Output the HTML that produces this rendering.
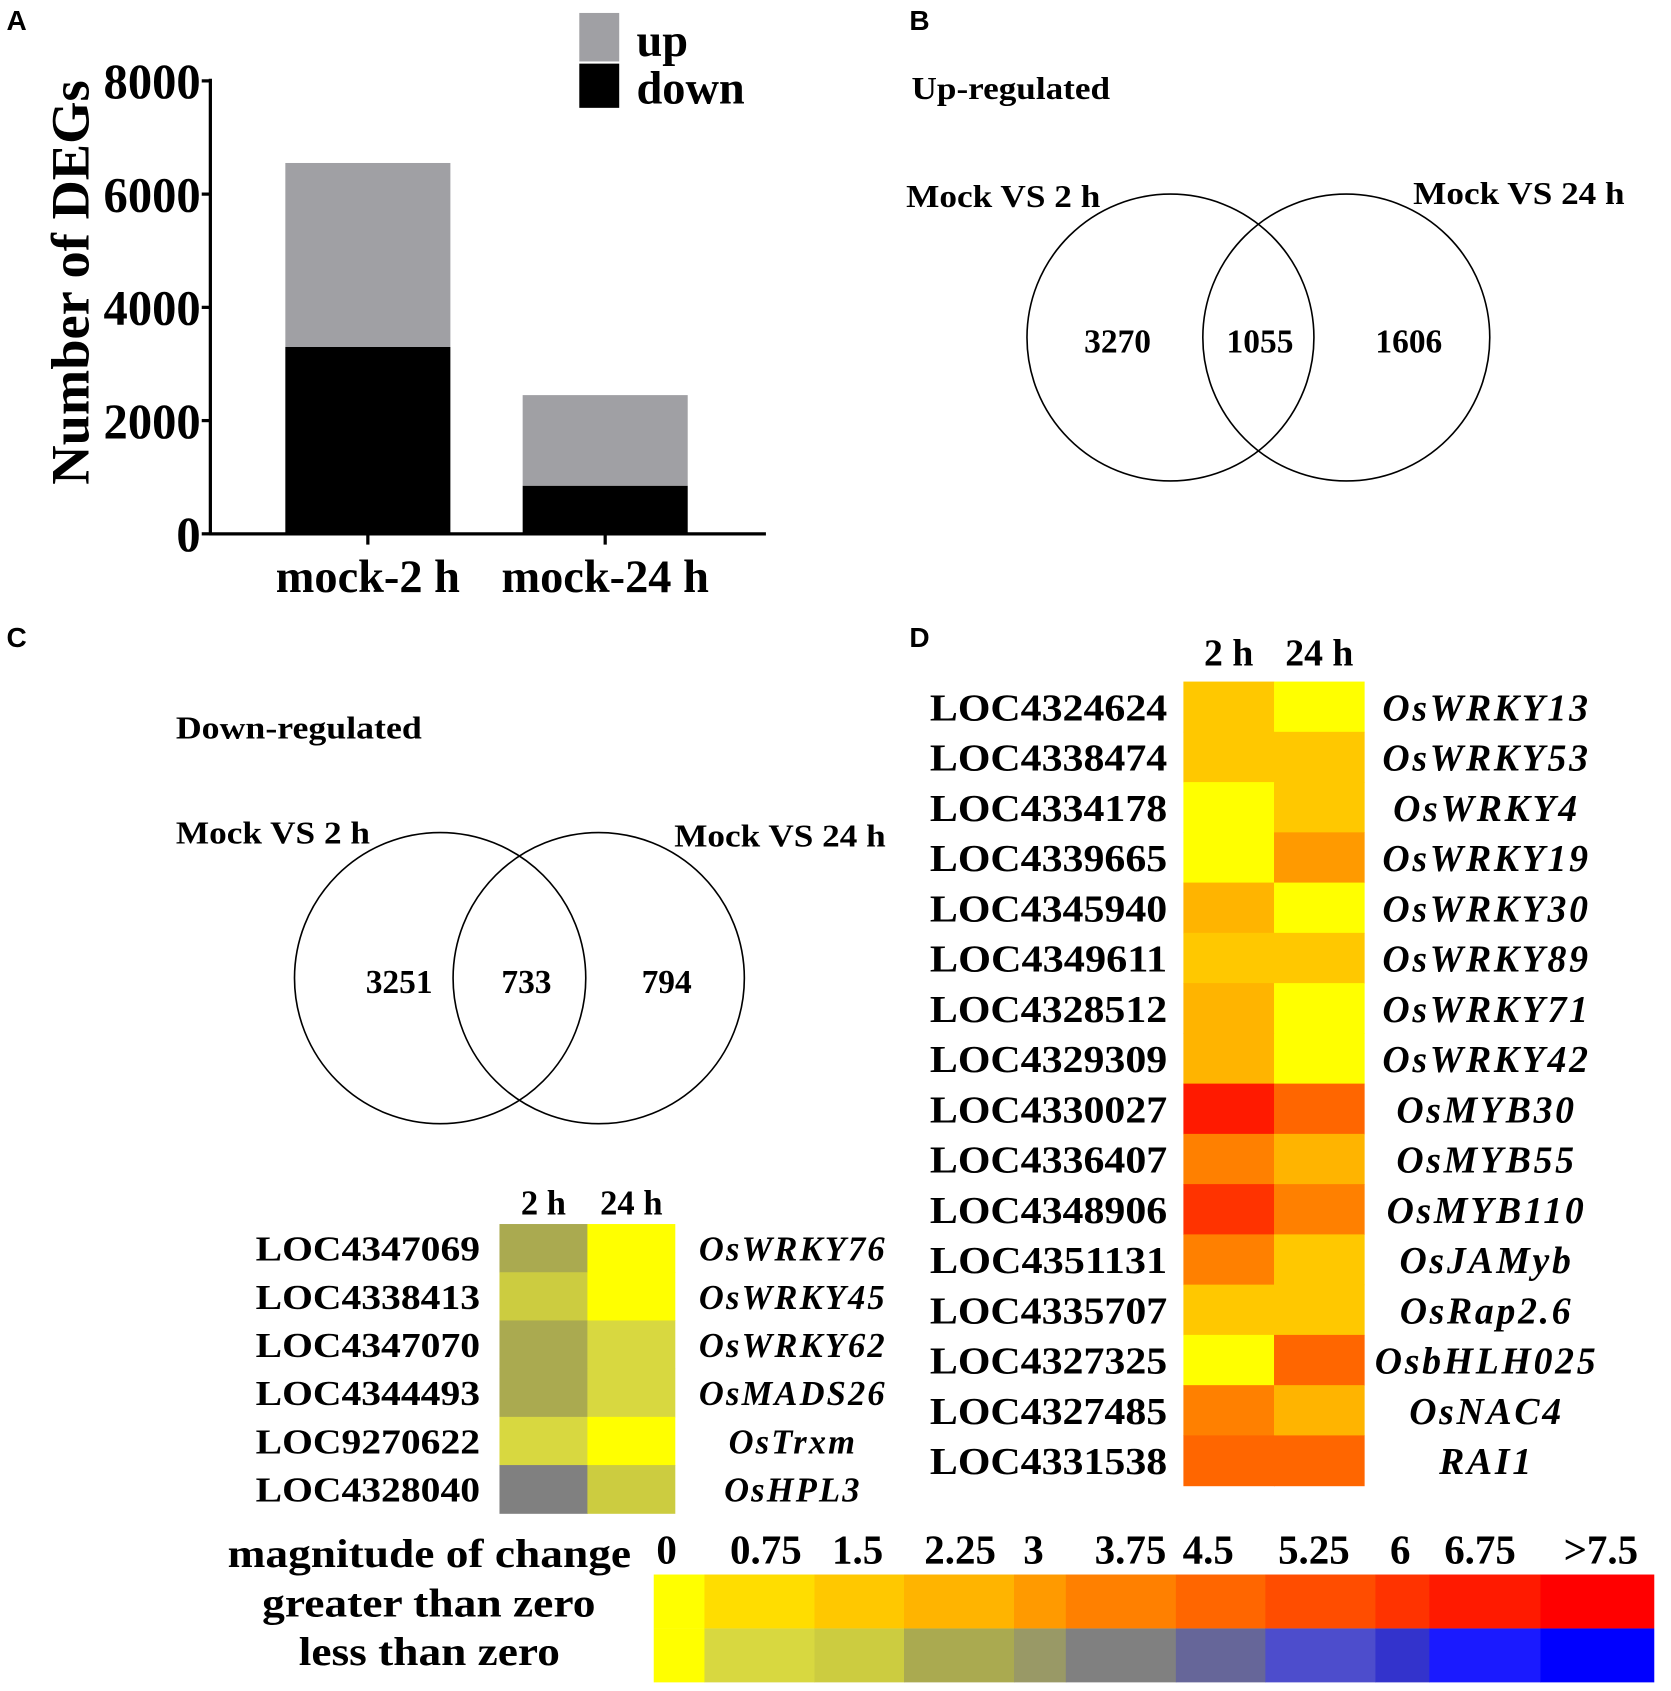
<!DOCTYPE html>
<html><head><meta charset="utf-8"><style>
html,body{margin:0;padding:0;background:#fff;}
svg{display:block;font-family:"Liberation Serif",serif;font-weight:bold;}
</style></head><body>
<svg id="fig" width="1671" height="1691" viewBox="0 0 1549 1568" preserveAspectRatio="none" xmlns="http://www.w3.org/2000/svg">
<g font-family="Liberation Sans, sans-serif" font-size="26" font-weight="bold">
<text x="6" y="28">A</text>
<text x="843" y="28">B</text>
<text x="6" y="600">C</text>
<text x="843" y="600">D</text>
</g>
<g id="panelA"></g>
<g id="venns"></g>
<g id="heatC"></g>
<g id="heatD"></g>
<g id="legend"></g>
</svg>
<script>
// ---------- Panel A data ----------
const categories = ["mock-2 h", "mock-24 h"];
const downValues = [3300, 850];
const upValues = [3250, 1600];
const yTicks = [0, 2000, 4000, 6000, 8000];
// ---------- Venn data ----------
const vennUp = [3270, 1055, 1606];
const vennDown = [3251, 733, 794];
// ---------- Heatmap C data ----------
const cGenes = ["LOC4347069","LOC4338413","LOC4347070","LOC4344493","LOC9270622","LOC4328040"];
const cNames = ["OsWRKY76","OsWRKY45","OsWRKY62","OsMADS26","OsTrxm","OsHPL3"];
const c2h = [2.4, 1.6, 2.5, 2.3, 0.9, 4.0];
const c24h = [0.3, 0.3, 1.0, 1.0, 0.2, 1.6];
// ---------- Heatmap D data ----------
const dGenes = ["LOC4324624","LOC4338474","LOC4334178","LOC4339665","LOC4345940","LOC4349611","LOC4328512","LOC4329309","LOC4330027","LOC4336407","LOC4348906","LOC4351131","LOC4335707","LOC4327325","LOC4327485","LOC4331538"];
const dNames = ["OsWRKY13","OsWRKY53","OsWRKY4","OsWRKY19","OsWRKY30","OsWRKY89","OsWRKY71","OsWRKY42","OsMYB30","OsMYB55","OsMYB110","OsJAMyb","OsRap2.6","OsbHLH025","OsNAC4","RAI1"];
const d2h = [1.6, 2.0, 0.3, 0.3, 2.4, 1.7, 2.5, 2.5, 6.9, 3.8, 6.2, 4.0, 1.9, 0.3, 4.0, 4.6];
const d24h = [0.3, 1.6, 1.6, 3.5, 0.3, 1.7, 0.3, 0.3, 4.6, 2.4, 3.8, 1.7, 1.6, 4.8, 2.3, 4.6];
// ---------- Legend ----------
const legendLabels = ["0","0.75","1.5","2.25","3","3.75","4.5","5.25","6","6.75",">7.5"];
const posColors = ["#ffff00","#ffdd00","#ffc800","#ffb400","#ff9a00","#ff8000","#ff6600","#ff4d00","#ff3300","#ff1a00","#ff0000"];
const negColors = ["#ffff00","#d8d840","#cccc40","#aaaa50","#999966","#808080","#666699","#4d4dcc","#3333cc","#1a1aff","#0000ff"];

const NS="http://www.w3.org/2000/svg";
function mk(parent,tag,attrs,text){const e=document.createElementNS(NS,tag);for(const k in attrs)e.setAttribute(k,attrs[k]);if(text!==undefined)e.textContent=text;parent.appendChild(e);return e;}
function bin(v){return Math.max(0,Math.min(10,Math.floor(v/0.75)));}

// Panel A
const A=document.getElementById('panelA');
const y0=495,y1=75,ax0=195,ax1=710;
const yScale=v=>y0-(v/8000)*(y0-y1);
const barCenters=[341,561],barW=153;
categories.forEach((c,i)=>{
  const x=barCenters[i]-barW/2;
  let r=mk(A,'rect',{x:x,y:yScale(downValues[i]),width:barW,height:y0-yScale(downValues[i]),fill:'#000'});
  
  const tot=downValues[i]+upValues[i];
  r=mk(A,'rect',{x:x,y:yScale(tot),width:barW,height:yScale(downValues[i])-yScale(tot),fill:'#a0a0a4'});
  
  mk(A,'line',{x1:barCenters[i],x2:barCenters[i],y1:y0,y2:y0+10,stroke:'#000','stroke-width':3});
  const t=mk(A,'text',{x:barCenters[i],y:549,'text-anchor':'middle','font-size':43},c);
  
});
mk(A,'line',{x1:ax0,x2:ax0,y1:y1-2,y2:y0+1,stroke:'#000','stroke-width':3});
mk(A,'line',{x1:ax0-1,x2:ax1,y1:y0,y2:y0,stroke:'#000','stroke-width':3});
yTicks.forEach(v=>{
  mk(A,'line',{x1:ax0-8,x2:ax0,y1:yScale(v),y2:yScale(v),stroke:'#000','stroke-width':3});
  const s=String(v);
  const t=mk(A,'text',{x:186,y:yScale(v)+16,'text-anchor':'end','font-size':46,textLength:s.length*22.5,lengthAdjust:'spacingAndGlyphs'},s);
  
});
let yt=mk(A,'text',{x:0,y:0,'text-anchor':'middle','font-size':50,textLength:375,lengthAdjust:'spacingAndGlyphs',transform:'translate(82,262) rotate(-90)'},'Number of DEGs');

mk(A,'rect',{x:537,y:12,width:37,height:45,fill:'#a0a0a4'});
mk(A,'rect',{x:537,y:59,width:37,height:41,fill:'#000'});
let lt=mk(A,'text',{x:590,y:52,'font-size':43},'up');
lt=mk(A,'text',{x:590,y:96,'font-size':43},'down');

// Venns
const V=document.getElementById('venns');
function venn(title,tx,ty,tw,l1,l1x,l1y,l2,l2x,l2y,c1,c2,cy,r,vals,nx,ny){
  let t=mk(V,'text',{x:tx,y:ty,'font-size':29,textLength:tw,lengthAdjust:'spacingAndGlyphs'},title);
  t=mk(V,'text',{x:l1x,y:l1y,'font-size':29,textLength:180,lengthAdjust:'spacingAndGlyphs'},l1);
  t=mk(V,'text',{x:l2x,y:l2y,'font-size':29,textLength:196,lengthAdjust:'spacingAndGlyphs'},l2);
  let c=mk(V,'circle',{cx:c1,cy:cy,r:r,fill:'none',stroke:'#000','stroke-width':1.5});
  c=mk(V,'circle',{cx:c2,cy:cy,r:r,fill:'none',stroke:'#000','stroke-width':1.5});
  vals.forEach((v,i)=>{t=mk(V,'text',{x:nx[i],y:ny,'text-anchor':'middle','font-size':31},String(v));});
}
venn('Up-regulated',845,92,184,'Mock VS 2 h',840,192,'Mock VS 24 h',1310,189,1085,1248,313,133,vennUp,[1036,1168,1306],327);
venn('Down-regulated',163,685,228,'Mock VS 2 h',163,782,'Mock VS 24 h',625,785,408,555,907,135,vennDown,[370,488,618],921);

// Heatmaps
function heat(g,genes,names,v1,v2,colors,x0,cw,yTop,rh,fs,labelX,idW,nameX,ls,hy){
  let t=mk(g,'text',{x:x0+cw/2,y:hy,'text-anchor':'middle','font-size':fs},'2 h');
  t=mk(g,'text',{x:x0+cw*1.5,y:hy,'text-anchor':'middle','font-size':fs},'24 h');
  genes.forEach((gname,i)=>{
    const y=yTop+i*rh;
    let r=mk(g,'rect',{x:x0,y:y,width:cw+0.5,height:rh+0.5,fill:colors[bin(v1[i])]});
    r=mk(g,'rect',{x:x0+cw,y:y,width:cw,height:rh+0.5,fill:colors[bin(v2[i])]});
    t=mk(g,'text',{x:labelX-idW,y:y+rh/2+fs*0.36,'font-size':fs,textLength:idW,lengthAdjust:'spacingAndGlyphs'},gname);
    t=mk(g,'text',{x:nameX,y:y+rh/2+fs*0.36,'text-anchor':'middle','font-size':fs,'font-style':'italic','letter-spacing':ls},names[i]);
  });
}
heat(document.getElementById('heatC'),cGenes,cNames,c2h,c24h,negColors,463,81.5,1135,44.7,32,445,208,735,2,1126);
heat(document.getElementById('heatD'),dGenes,dNames,d2h,d24h,posColors,1097,84,632,46.6,35,1082,220,1378,2.5,617);

// Legend
const L=document.getElementById('legend');
const edges=[606,653,755,838,940,988,1090,1173,1275,1325,1428,1533];
const labelCx=[618,710,795,890,958,1048,1120,1218,1298,1372,1484];
legendLabels.forEach((lab,i)=>{
  let r=mk(L,'rect',{x:edges[i],y:1460,width:edges[i+1]-edges[i]+0.5,height:50,fill:posColors[i]});
  r=mk(L,'rect',{x:edges[i],y:1510,width:edges[i+1]-edges[i]+0.5,height:50,fill:negColors[i]});
  const t=mk(L,'text',{x:labelCx[i],y:1450,'text-anchor':'middle','font-size':38},lab);
});
let t=mk(L,'text',{x:211,y:1453,'font-size':37,textLength:374,lengthAdjust:'spacingAndGlyphs'},'magnitude of change');
t=mk(L,'text',{x:243,y:1499,'font-size':37,textLength:309,lengthAdjust:'spacingAndGlyphs'},'greater than zero');
t=mk(L,'text',{x:277,y:1544,'font-size':37,textLength:242,lengthAdjust:'spacingAndGlyphs'},'less than zero');
</script>
</body></html>
